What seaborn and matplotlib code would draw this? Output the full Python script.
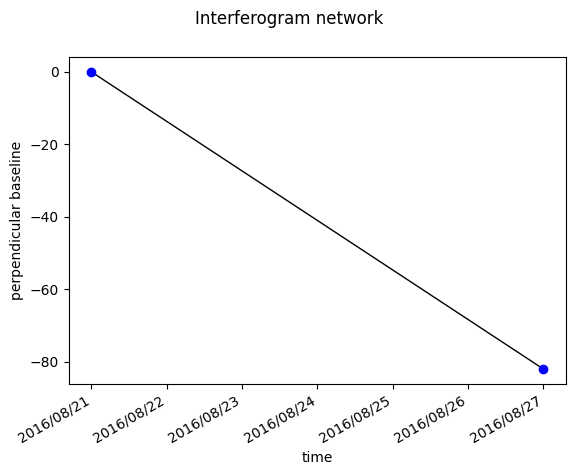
import pandas as pd
import numpy as np
import matplotlib
matplotlib.use("Agg")
import matplotlib.pyplot as plt
import matplotlib.dates as mdates
import seaborn as sns

# acquisition dates and perpendicular baselines
dates = ["2016-08-21", "2016-08-27"]
bperp = [0.0, -82.0]

df = pd.DataFrame({"time": pd.to_datetime(dates), "bperp": bperp})

fig = plt.figure(figsize=(5.78, 4.75), dpi=100)
ax = fig.add_axes([0.119, 0.192, 0.860, 0.688])

# interferogram pair edge
sns.lineplot(data=df, x="time", y="bperp", color="k", linewidth=1, ax=ax)
# acquisitions
ax.plot(df["time"], df["bperp"], "bo", markersize=6)

ax.xaxis.set_major_locator(mdates.DayLocator())
ax.xaxis.set_major_formatter(mdates.DateFormatter("%Y/%m/%d"))
ax.set_xlabel("time")
ax.set_ylabel("perpendicular baseline")
fig.suptitle("Interferogram network")
for lab in ax.get_xticklabels():
    lab.set_rotation(30)
    lab.set_ha("right")

fig.savefig("out.png", dpi=100)
